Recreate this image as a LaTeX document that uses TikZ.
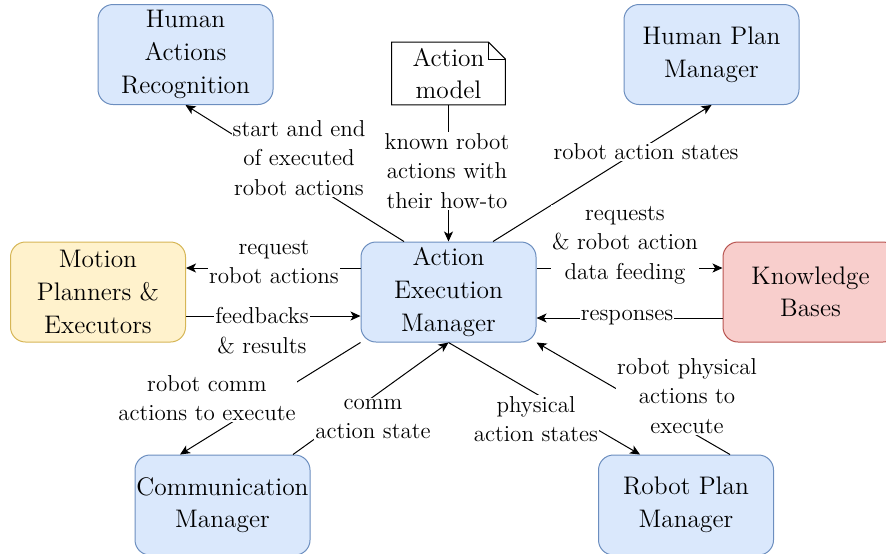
\documentclass[tikz,border=0pt]{standalone}
\usepackage{tikz}
\usetikzlibrary{arrows.meta}

\definecolor{blueFill}{HTML}{DAE8FC}
\definecolor{blueLine}{HTML}{6C8EBF}
\definecolor{yellowFill}{HTML}{FFF2CC}
\definecolor{yellowLine}{HTML}{D6B656}
\definecolor{redFill}{HTML}{F8CECC}
\definecolor{redLine}{HTML}{B85450}

\begin{document}
\begin{tikzpicture}[x=0.5pt, y=-0.5pt,
        boxtext/.style={align=center, font=\fontsize{12.7}{16.3}\selectfont, execute at begin node={\rule{0pt}{13.6pt}}},
        box/.style={boxtext, draw, line width=0.5pt, rounded corners=7.5pt, minimum width=87.5pt, minimum height=50pt, inner sep=0pt},
        bluebox/.style={box, draw=blueLine, fill=blueFill},
        lbl/.style={fill=white, inner sep=0.5pt, align=center, font=\fontsize{11.5}{14.75}\selectfont},
        flow/.style={black, line width=0.5pt, -{Stealth[length=5pt, width=4.5pt, inset=1.3pt]}}]
            \useasboundingbox (0, 0) rectangle (886, 553);
            \clip (0, 0) rectangle (886, 553);

            \node[bluebox] (har) at (185.5, 54.5) {Human\\Actions\\Recognition};
            \node[bluebox] (hpm) at (711.5, 54.5) {Human Plan\\Manager};
            \node[box, draw=yellowLine, fill=yellowFill] (mpe) at (98, 292) {Motion\\Planners \&\\Executors};
            \node[bluebox] (aem) at (448.5, 292) {Action\\Execution\\Manager};
            \node[box, draw=redLine, fill=redFill] (kb) at (810.5, 292) {Knowledge\\Bases};
            \node[bluebox] (cm) at (222.5, 505) {Communication\\Manager};
            \node[bluebox] (rpm) at (686, 505) {Robot Plan\\Manager};

            % note shape with folded corner
            \node[boxtext, minimum width=56.5pt, minimum height=31pt, inner sep=0pt] (am) at (448.5, 73.5) {Action\\model};
            \draw[black, line width=0.5pt] (am.north west) -- ([xshift=-8.5pt]am.north east) -- ([yshift=-8.5pt]am.north east) -- (am.south east) -- (am.south west) -- cycle;
            \draw[black, line width=0.5pt] ([xshift=-8.5pt]am.north east) |- ([yshift=-8.5pt]am.north east);

            \draw[flow] ([xshift=-22.25pt]aem.north) -- (har.south);
            \draw[flow] (am.south) -- (aem.north);
            \draw[flow] ([xshift=22.25pt]aem.north) -- (hpm.south);
            \draw[flow] ([yshift=12pt]aem.west) -- ([yshift=12pt]mpe.east);
            \draw[flow] ([yshift=-12pt]mpe.east) -- ([yshift=-12pt]aem.west);
            \draw[flow] ([yshift=12pt]aem.east) -- ([yshift=12pt]kb.west);
            \draw[flow] ([yshift=-13pt]kb.west) -- ([yshift=-13pt]aem.east);
            \draw[flow] (aem.south west) -- ([xshift=-21.25pt]cm.north);
            \draw[flow] ([xshift=35.25pt]cm.north) -- (aem.south);
            \draw[flow] (aem.south) -- ([xshift=-23pt]rpm.north);
            \draw[flow] ([xshift=22pt]rpm.north) -- (aem.south east);

            \node[lbl] (l1) at (299, 158) {start and end\\of executed\\robot actions};
            \node[lbl] (l2) at (447, 171) {known robot\\actions with\\their how-to};
            \node[lbl] (l3) at (646, 152) {robot action states};
            \node[lbl] (l4) at (274, 262) {request\\robot actions};
            \node[lbl] (l5) at (262, 330.5) {feedbacks\\\& results};
            \node[lbl] (l6) at (625, 245) {requests\\\& robot action\\data feeding};
            \node[lbl] (l7) at (627, 318) {responses};
            \node[lbl] (l8) at (207, 398) {robot comm\\actions to execute};
            \node[lbl] (l9) at (373, 419) {comm\\action state};
            \node[lbl] (l10) at (536, 419) {physical\\action states};
            \node[lbl] (l11) at (687, 396) {robot physical\\actions to\\execute};
        \end{tikzpicture}
\end{document}
